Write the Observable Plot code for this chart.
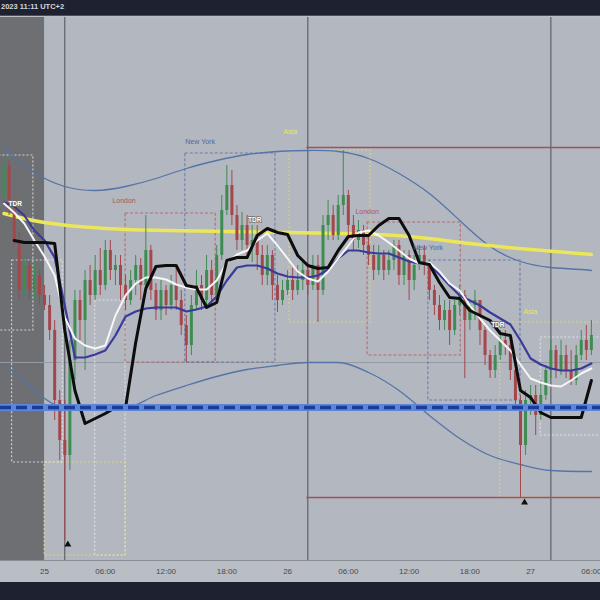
<!DOCTYPE html>
<html><head><meta charset="utf-8">
<script src="https://cdn.jsdelivr.net/npm/d3@7"></script>
<script src="https://cdn.jsdelivr.net/npm/@observablehq/plot@0.6"></script>
<style>
html,body{margin:0;padding:0;background:#1e2230;width:600px;height:600px;overflow:hidden;}
#top{height:16px;border-bottom:1px solid #4a4f5c;box-sizing:border-box;color:#d4d7de;font:bold 7.5px "Liberation Sans",Arial,sans-serif;line-height:14px;white-space:nowrap;padding-left:1px}
#chart svg{display:block}
#bottom{height:18px;background:#1e2230}
</style></head><body>
<div id="top">2023 11:11 UTC+2</div>
<div id="chart"></div>
<div id="bottom"></div>
<script>
// ---- data (time in hours from 25th 00:00 UTC+2, price in chart points) ----
const firstCandleHour = -4;
const firstOpen = 365;
const closes = [395,350,320,270,295,270,285,265,255,230,
160,120,105,200,260,240,280,265,290,275,
310,290,295,275,260,280,295,275,310,270,
250,270,255,275,260,235,215,255,275,260,
290,265,305,350,375,345,320,335,315,320,
305,285,305,275,260,270,280,270,280,290,
275,295,270,335,345,325,355,365,335,320,
330,315,305,290,305,290,300,315,285,305,
280,295,305,295,270,255,240,250,230,255,
265,240,255,260,230,205,190,205,220,215,
190,160,115,160,165,145,165,190,210,190,
205,190,180,205,220,210,225];
const highs = [402,400,355,328,302,300,298,290,275,265,
240,170,160,220,270,270,290,295,305,312,
320,320,305,305,285,290,305,302,345,315,
277,280,275,285,295,270,245,265,290,285,
305,300,315,365,395,390,355,348,345,335,
335,315,315,310,285,280,290,292,295,300,
298,305,305,345,360,355,365,410,370,345,
340,335,325,315,315,310,310,320,320,310,
310,305,315,315,300,275,265,260,260,260,
275,270,260,270,260,235,210,215,230,230,
220,195,165,170,175,175,180,195,220,215,
220,215,210,215,230,235,240];
const lows = [360,345,315,260,265,260,260,255,250,220,
140,100,20,90,180,220,190,255,260,265,
270,280,275,260,250,255,265,260,270,260,
240,240,245,250,250,225,198,205,250,250,
255,255,260,300,345,335,310,310,305,298,
290,275,275,260,248,255,265,260,265,270,
265,270,238,265,320,320,320,345,325,310,
312,305,295,280,285,280,285,290,275,275,
260,270,290,285,260,245,230,230,215,225,
245,182,230,240,215,195,182,182,200,205,
180,150,63,105,145,125,140,160,182,182,
185,182,175,175,200,200,205];

// hourly indicator values
const blackStartHour = -3;
const blackLine = [320,318,318,318,317,230,170,137,142,147,153,153,218,272,294,295,295,275,273,253,258,300,303,303,325,332,328,326,305,295,292,293,310,324,325,325,335,342,342,325,298,296,278,263,262,250,245,240,227,225,170,163,148,143,143,143,143,180];
const indStartHour = -4;
const navyLine = [358,354,345,330,320,303,255,203,203,206,210,225,244,249,252,253,253,253,249,251,254,264,280,293,295,295,292,287,284,283,283,285,291,302,310,310,308,307,307,303,299,297,296,286,275,265,260,255,248,242,236,220,202,196,192,190,190,192,197];
const whiteLine = [357,348,337,320,304,285,243,222,215,212,215,245,265,277,283,283,281,276,273,271,271,280,298,306,310,320,327,315,302,289,282,279,289,302,315,328,330,325,318,310,302,297,298,289,277,270,255,242,230,220,210,196,182,178,175,174,180,187,192];
const yellowHours = [-4,0,6,12,18,24,30,36,42,48,54];
const yellowLine = [347,338,332,330,329,328,327,324,317,311,306];
const upperHours = [-4,-1,2,5,8,11,14,17,20,23,26,29,32,35,38,41,44,47,50,53,54];
const upperBand = [412,388,374,370,374,382,392,400,406,409,410,409,402,387,367,340,314,299,293,291,290];
const lowerHours = [-4,-3,-2,-1,0,1,2,5,8,11,14,17,20,23,26,29,32,35,38,41,44,47,50,53,54];
const lowerBand = [195,188,180,170,162,156,153,153,153,165,175,184,191,195,198,198,188,170,145,122,105,96,90,89,89];

// levels
const keyLevel = 153;          // thick blue
const midLevel = 198;          // faint grey
const rangeStart = 25.9;
const rangeHigh = 413, rangeLow = 63;
const dayOpens = [2, 26, 50];
const closedStart = -4.35, closedEnd = 0;

// sessions
const sessionNames = ["TDR","TDR","Asia","TDR","London","New York","Asia","London","New York","Asia","TDR"];
const sessionStart = [-4.5,-3.2,0,5,8.0,13.9,24.2,31.9,37.9,45.0,49.0];
const sessionEnd   = [-1.1,1.8,8,8,16.9,22.8,32.2,41.1,47.0,55.5,55.5];
const sessionLow   = [230,98,5,5,198,198,238,205,160,63,125];
const sessionHigh  = [405,300,98,260,347,407,410,338,300,238,223];

const labelNames = ["London","New York","Asia","London","New York","Asia"];
const labelHours = [6.7,13.9,23.6,30.7,36.4,47.3];
const labelPrices = [360,419,429,349,313,249];
const tdrHours = [-3.55,20.1,44.1];
const tdrPrices = [357,341,236];
const markerHours = [2.3,47.4];
const markerPrices = [16,58];

const tickHours = [0,6,12,18,24,30,36,42,48,54];
const tickLabels = ["25","06:00","12:00","18:00","26","06:00","12:00","18:00","27","06:00"];

// ---- build tables ----
const candles = closes.map((c,i)=>({t: firstCandleHour + 0.5*i, o: i===0 ? firstOpen : closes[i-1], c, h: highs[i], l: lows[i]}));
const up = candles.filter(d=>d.c>=d.o), down = candles.filter(d=>d.c<d.o);
const series = (start, vals) => vals.map((p,i)=>({t: start+i, p}));
const pairs = (hs, vals) => vals.map((p,i)=>({t: hs[i], p}));
const sessions = sessionNames.map((n,i)=>({name:n, start:sessionStart[i], end:sessionEnd[i], low:sessionLow[i], high:sessionHigh[i]}));
const labels = labelNames.map((n,i)=>({name:n, t:labelHours[i], p:labelPrices[i]}));
const tdr = tdrHours.map((t,i)=>({t, p:tdrPrices[i]}));
const markers = markerHours.map((t,i)=>({t, p:markerPrices[i]}));
const style = {
  "TDR": {stroke:"#eceef2", dash:"2,2"},
  "Asia": {stroke:"#e4df6a", dash:"2,2"},
  "London": {stroke:"#b8585e", dash:"3,2"},
  "New York": {stroke:"#5a6fa6", dash:"3,2"}
};
const textColor = {"London":"#b0545a","New York":"#4d69a6","Asia":"#ece55c"};

const sessionMarks = Object.keys(style).map(n => Plot.rect(sessions.filter(d=>d.name===n), {
  x1:"start", x2:"end", y1:"low", y2:"high", fill:"none", stroke: style[n].stroke, strokeWidth:1.1, strokeDasharray: style[n].dash, strokeOpacity:0.8
}));

const chart = Plot.plot({
  width: 600, height: 566, marginTop: 1, marginBottom: 22, marginLeft: 0, marginRight: 0,
  style: {background: "#b9bdc4", fontFamily: "Liberation Sans, Arial, sans-serif", overflow: "hidden"},
  x: {domain: [-4.35, 54.9], axis: null},
  y: {domain: [0, 543], axis: null},
  marks: [
    Plot.frame({fill: "#b3b7bf"}),
    Plot.rect([{a: closedStart, b: closedEnd}], {x1:"a", x2:"b", fill:"#6d6f73"}),
    Plot.ruleY([midLevel], {stroke:"#979ba3", strokeWidth:1}),
    ...sessionMarks,
    Plot.ruleX(dayOpens, {stroke:"#4d515a", strokeWidth:1}),
    Plot.ruleY([rangeHigh, rangeLow], {x1: rangeStart, x2: 55.5, stroke:"#a0505e", strokeWidth:1.3}),
    Plot.line(pairs(upperHours, upperBand), {x:"t", y:"p", stroke:"#5574a8", strokeWidth:1.3, curve:"natural"}),
    Plot.line(pairs(lowerHours, lowerBand), {x:"t", y:"p", stroke:"#5574a8", strokeWidth:1.3, curve:"monotone-x"}),
    Plot.line(pairs(yellowHours, yellowLine), {x:"t", y:"p", stroke:"#ebe65a", strokeWidth:3.5, curve:"natural"}),
    Plot.ruleX(candles, {x:"t", y1:"l", y2:"h", stroke: d => d.c>=d.o ? "#3e8c52" : "#a4474b", strokeWidth:1}),
    Plot.ruleX(up, {x:"t", y1:"o", y2:"c", stroke:"#3e8c52", strokeWidth:3}),
    Plot.ruleX(down, {x:"t", y1:"o", y2:"c", stroke:"#a4474b", strokeWidth:3}),
    Plot.line(series(indStartHour, navyLine), {x:"t", y:"p", stroke:"#3a3a9c", strokeWidth:2.2}),
    Plot.line(series(indStartHour, whiteLine), {x:"t", y:"p", stroke:"#f6f6f6", strokeWidth:2}),
    Plot.line(series(blackStartHour, blackLine), {x:"t", y:"p", stroke:"#0d0d0d", strokeWidth:3, strokeLinejoin:"round"}),
    Plot.ruleY([keyLevel], {stroke:"#5c86d6", strokeWidth:7}),
    Plot.ruleY([keyLevel], {stroke:"#1c3a98", strokeWidth:3.5, strokeDasharray:"11,5"}),
    Plot.text(labels, {x:"t", y:"p", text:"name", textAnchor:"start", fontSize:7, fill: d => textColor[d.name]}),
    Plot.text(tdr, {x:"t", y:"p", text: () => "TDR", textAnchor:"start", fontSize:6.5, fontWeight:"bold", fill:"#ffffff", stroke:"#707070", strokeWidth:1.5}),
    Plot.dot(markers, {x:"t", y:"p", symbol:"triangle", r:2.6, fill:"#111"}),
    Plot.ruleY([0], {stroke:"#8a8e96", strokeWidth:1}),
    Plot.axisX({ticks: tickHours, tickFormat: d => tickLabels[tickHours.indexOf(d)], tickSize: 0, tickPadding: 8, fontSize: 8, color:"#464950"})
  ]
});
document.getElementById("chart").appendChild(chart);
</script>
</body></html>
